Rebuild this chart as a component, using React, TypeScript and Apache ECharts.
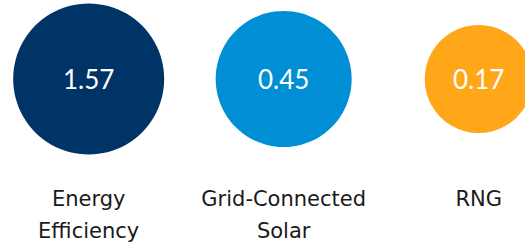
import React, { useEffect, useRef } from "react";
import * as echarts from "echarts";

const categories = ["Energy\nEfficiency", "Grid-Connected\nSolar", "RNG"];
const values = [1.57, 0.45, 0.17];
const colors = ["#003466", "#008FD4", "#FFA619"];
const diameters = [151, 136, 108];

export default function App() {
  const ref = useRef<HTMLDivElement>(null);
  useEffect(() => {
    document.body.style.margin = "0";
    const chart = echarts.init(ref.current!, null, { renderer: "svg" });
    chart.setOption({
      animation: false,
      backgroundColor: "#ffffff",
      grid: { left: 0, right: 0, top: 0, height: 164 },
      xAxis: {
        type: "value",
        min: -0.4547,
        max: 2.2376,
        axisLine: { show: false },
        axisTick: { show: false },
        splitLine: { show: false },
        axisLabel: {
          customValues: [0, 1, 2],
          formatter: (v: number) => categories[Math.round(v)],
          margin: 25,
          verticalAlign: "top",
          lineHeight: 32,
          fontSize: 21,
          fontFamily: "DejaVu Sans",
          color: "#1a1a1a",
        },
      },
      yAxis: { type: "value", min: -1, max: 1, show: false },
      series: [
        {
          type: "scatter",
          symbol: "circle",
          data: values.map((v, i) => ({
            value: [i, 0],
            symbolSize: diameters[i],
            itemStyle: { color: colors[i], opacity: 1 },
          })),
          label: {
            show: true,
            position: "inside",
            formatter: (p: any) => values[p.dataIndex].toFixed(2),
            color: "#ffffff",
            fontSize: 26,
            fontFamily: "Lato",
            fontWeight: 400,
          },
          emphasis: { disabled: true },
        },
      ],
    });
    return () => chart.dispose();
  }, []);
  return <div ref={ref} style={{ width: 525, height: 247 }} />;
}
